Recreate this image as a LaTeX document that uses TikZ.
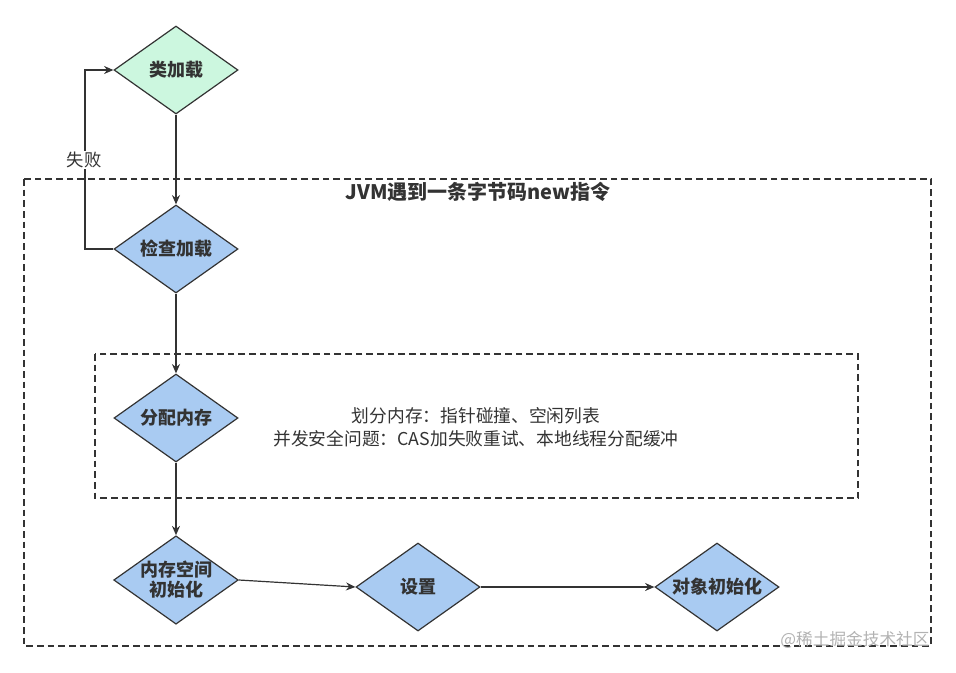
\documentclass[tikz,border=0pt]{standalone}
\usepackage{fontspec}
\setmainfont{Noto Sans CJK SC}
\usetikzlibrary{shapes.geometric,arrows.meta}
\definecolor{bl}{HTML}{A9CBF2}
\definecolor{gr}{HTML}{CCF7DF}
\definecolor{ln}{HTML}{333333}
\begin{document}
\begin{tikzpicture}[x=0.75pt,y=-0.75pt,
 dia/.style={diamond,draw=ln,line width=0.9pt,fill=bl,minimum width=93pt,minimum height=66pt,inner sep=0pt,aspect=1.41,font=\bfseries\fontsize{13.5}{15}\selectfont,text=ln,align=center},
 arr/.style={draw=ln,line width=0.9pt,-{Stealth[length=7pt,width=6pt]}},
 box/.style={draw=ln,dashed,dash pattern=on 5pt off 3pt,line width=0.9pt}]
\useasboundingbox (0,0) rectangle (956,672);
\draw[box] (24,179) rectangle (931,646);
\draw[box] (95,354) rectangle (858,498);
\node[font=\bfseries\fontsize{15}{17}\selectfont,text=ln] (t) at (478,192) {JVM遇到一条字节码new指令};
\node[dia,fill=gr] (a) at (176,70) {类加载};
\node[dia] (b) at (176,249) {检查加载};
\node[dia] (c) at (176,418) {分配内存};
\node[dia] (d) at (176,580) {内存空间\\初始化};
\node[dia] (e) at (418,587) {设置};
\node[dia] (f) at (717,587) {对象初始化};
\node[font=\fontsize{13.3}{17.5}\selectfont,text=ln,align=center] (txt) at (476,427) {划分内存：指针碰撞、空闲列表\\并发安全问题：CAS加失败重试、本地线程分配缓冲};
\coordinate (l1) at (85,249);
\coordinate (l2) at (85,70);
\draw[arr] (b.west) -- (l1) -- (l2) -- (a.west);
\node[fill=white,inner sep=1pt,font=\fontsize{13}{15}\selectfont,text=ln] (fail) at (84,160) {失败};
\draw[arr] (a.south) -- (b.north);
\draw[arr] (b.south) -- (c.north);
\draw[arr] (c.south) -- (d.north);
\draw[arr] (d.east) -- (e.west);
\draw[arr] (e.east) -- (f.west);
\node[font=\fontsize{12.5}{14}\selectfont,text=gray!60] (wm) at (855,640) {@稀土掘金技术社区};
\end{tikzpicture}
\end{document}
